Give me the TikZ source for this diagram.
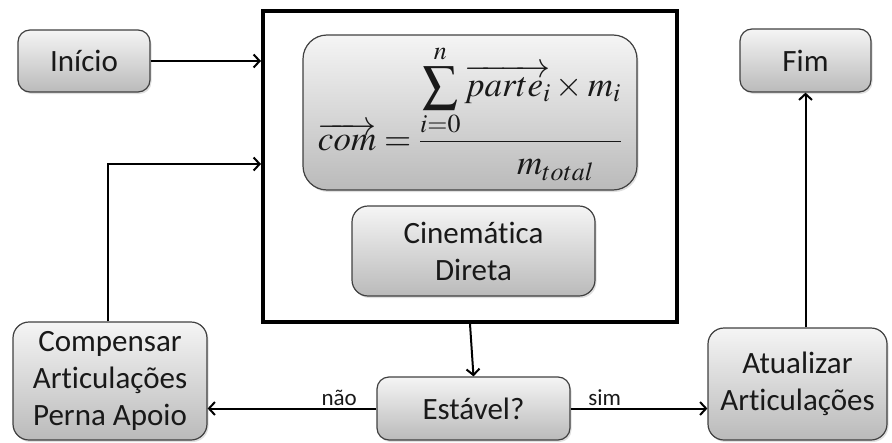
\documentclass[tikz,border=0pt]{standalone}
\usepackage{amsmath}
\usepackage{mathptmx}
\usepackage[no-math]{fontspec}
\setmainfont[Ligatures=NoCommon]{Carlito}
\usetikzlibrary{arrows.meta,shadows}

\tikzset{
  stepbox/.style={draw=black!75, line width=1.2pt, rounded corners=12pt,
    top color=black!4, bottom color=black!27, text=black!90, align=center,
    inner sep=0pt, font=\fontsize{31}{37}\selectfont,
    drop shadow={opacity=0.25, shadow xshift=1.5pt, shadow yshift=-2pt}},
  flow/.style={line width=2pt, -{Straight Barb[length=6pt,width=13pt,line width=2pt]}},
  edgelabel/.style={font=\fontsize{23}{26}\selectfont, text=black!90, inner sep=2pt}
}

\begin{document}
\begin{tikzpicture}[x=1pt,y=-1pt]
\useasboundingbox (0,0) rectangle (892,442);

% frame around the centre-of-mass computation
\node[draw, line width=4pt, minimum width=414pt, minimum height=311pt, inner sep=0pt] (core) at (470,166.5) {};

\node[stepbox, minimum width=132pt, minimum height=62pt] (inicio) at (84,61) {Início};
\node[stepbox, minimum width=131pt, minimum height=63pt] (fim) at (805.5,60.5) {Fim};
\node[stepbox, rounded corners=24pt, minimum width=334pt, minimum height=155pt,
      font=\fontsize{35}{40}\selectfont] (formula) at (470,112.5)
  {$\overrightarrow{com}=\dfrac{\displaystyle\sum_{i=0}^{n}\overrightarrow{parte_i}\times m_i}{\hspace{2em}m_{total}}$};
\node[stepbox, rounded corners=16pt, minimum width=243pt, minimum height=90pt] (cine) at (473.5,251) {Cinemática\\Direta};
\node[stepbox, rounded corners=16pt, minimum width=194pt, minimum height=118pt] (comp) at (110,381) {Compensar\\Articulações\\Perna Apoio};
\node[stepbox, minimum width=193pt, minimum height=63pt] (est) at (473.5,408.5) {Estável?};
\node[stepbox, rounded corners=16pt, minimum width=179pt, minimum height=112pt] (atual) at (797.5,384) {Atualizar\\Articulações};

\coordinate (back) at (108,164);

\draw[flow] (inicio.east) -- (inicio.east -| core.west);
\draw[flow] (comp.north -| back) -- (back) -- (back -| core.west);
\draw[flow] (core.south) -- (est.north);
\draw[flow] (est.west) -- (est.west -| comp.east) node[edgelabel, pos=0.22, above] {não};
\draw[flow] (est.east) -- (est.east -| atual.west) node[edgelabel, pos=0.25, above] {sim};
\draw[flow] (fim.south |- atual.north) -- (fim.south);
\end{tikzpicture}
\end{document}
